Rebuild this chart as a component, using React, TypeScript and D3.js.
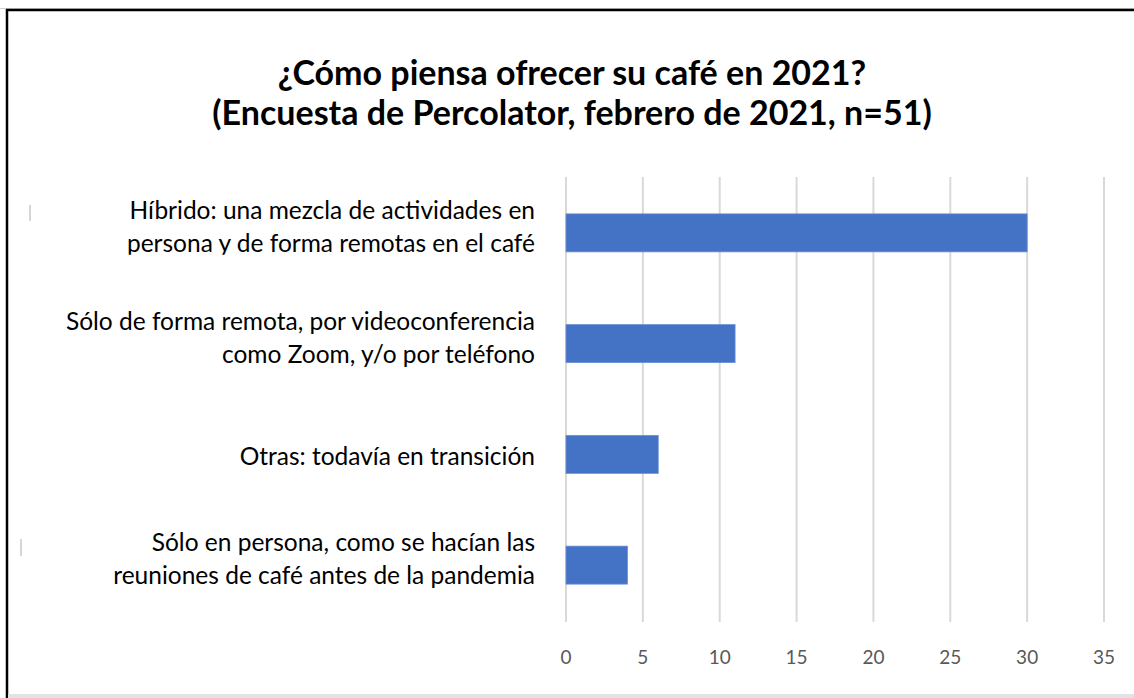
import React from "react";
import * as d3 from "d3";

const titleLines = [
  "¿Cómo piensa ofrecer su café en 2021?",
  "(Encuesta de Percolator, febrero de 2021, n=51)",
];
const categories = [
  "Híbrido: una mezcla de actividades en\npersona y de forma remotas en el café",
  "Sólo de forma remota, por videoconferencia\ncomo Zoom, y/o por teléfono",
  "Otras: todavía en transición",
  "Sólo en persona, como se hacían las\nreuniones de café antes de la pandemia",
];
const values = [30, 11, 6, 4];
const xTicks = [0, 5, 10, 15, 20, 25, 30, 35];

const W = 1134;
const H = 698;
const FONT = "Lato, 'Open Sans', sans-serif";

export default function App() {
  const x = d3.scaleLinear().domain([0, 35]).range([566, 1104]);
  const y = d3
    .scaleBand<string>()
    .domain(categories)
    .range([177.5, 620.5])
    .paddingInner(0.657)
    .paddingOuter(0.3285);
  const gridTop = 177;
  const gridBottom = 622;

  return (
    <svg
      width={W}
      height={H}
      style={{ position: "absolute", left: 0, top: 0, background: "#fff" }}
    >
      <rect x={0} y={0} width={W} height={H} fill="#fff" />
      <defs>
        <clipPath id="clip0">
          <rect x={0} y={0} width={560} height={(y(categories[0]) ?? 0) + y.bandwidth() + 3} />
        </clipPath>
      </defs>
      {/* frame */}
      <line x1={0} x2={W} y1={8.5} y2={8.5} stroke="#d0d0d0" strokeWidth={1} />
      <line x1={6} x2={W} y1={10} y2={10} stroke="#000" strokeWidth={2.5} />
      <line x1={7} x2={7} y1={9} y2={H} stroke="#000" strokeWidth={2.5} />
      <rect x={8} y={694} width={W} height={4} fill="#e3e3e3" />

      {/* title */}
      {titleLines.map((t, i) => (
        <text
          key={i}
          x={572}
          y={85 + i * 40}
          textAnchor="middle"
          fontFamily={FONT}
          fontWeight="bold"
          fontSize={34}
          fill="#000"
        >
          {t}
        </text>
      ))}

      {/* gridlines */}
      {xTicks.map((t) => (
        <line
          key={t}
          x1={x(t)}
          x2={x(t)}
          y1={gridTop}
          y2={gridBottom}
          stroke="#d9d9d9"
          strokeWidth={2}
        />
      ))}

      {/* bars */}
      {categories.map((c, i) => (
        <rect
          key={c}
          x={x(0)}
          y={y(c)}
          width={x(values[i]) - x(0)}
          height={y.bandwidth()}
          fill="#4472c4"
          stroke="#6b8fd4"
          strokeWidth={0.8}
        />
      ))}

      {/* category labels */}
      {categories.map((c, i) => {
        const lines = c.split("\n");
        const center = (y(c) ?? 0) + y.bandwidth() / 2;
        const lh = 33;
        const first =
          lines.length === 1 ? center + 11 : center - ((lines.length - 1) * lh) / 2 + 2.5;
        return (
          <g key={c} clipPath={i === 0 ? "url(#clip0)" : undefined}>
            {lines.map((l, j) => (
              <text
                key={j}
                x={535}
                y={first + j * lh}
                textAnchor="end"
                fontFamily={FONT}
                fontSize={24.5}
                fill="#000"
              >
                {l}
              </text>
            ))}
          </g>
        );
      })}

      {/* small artifacts */}
      <line x1={30} x2={30} y1={205} y2={221} stroke="#c8c8c8" strokeWidth={1.5} />
      <line x1={21} x2={21} y1={539} y2={556} stroke="#c8c8c8" strokeWidth={1.5} />

      {/* x tick labels */}
      {xTicks.map((t) => (
        <text
          key={t}
          x={x(t)}
          y={664}
          textAnchor="middle"
          fontFamily={FONT}
          fontSize={19}
          fill="#595959"
        >
          {t}
        </text>
      ))}
    </svg>
  );
}
